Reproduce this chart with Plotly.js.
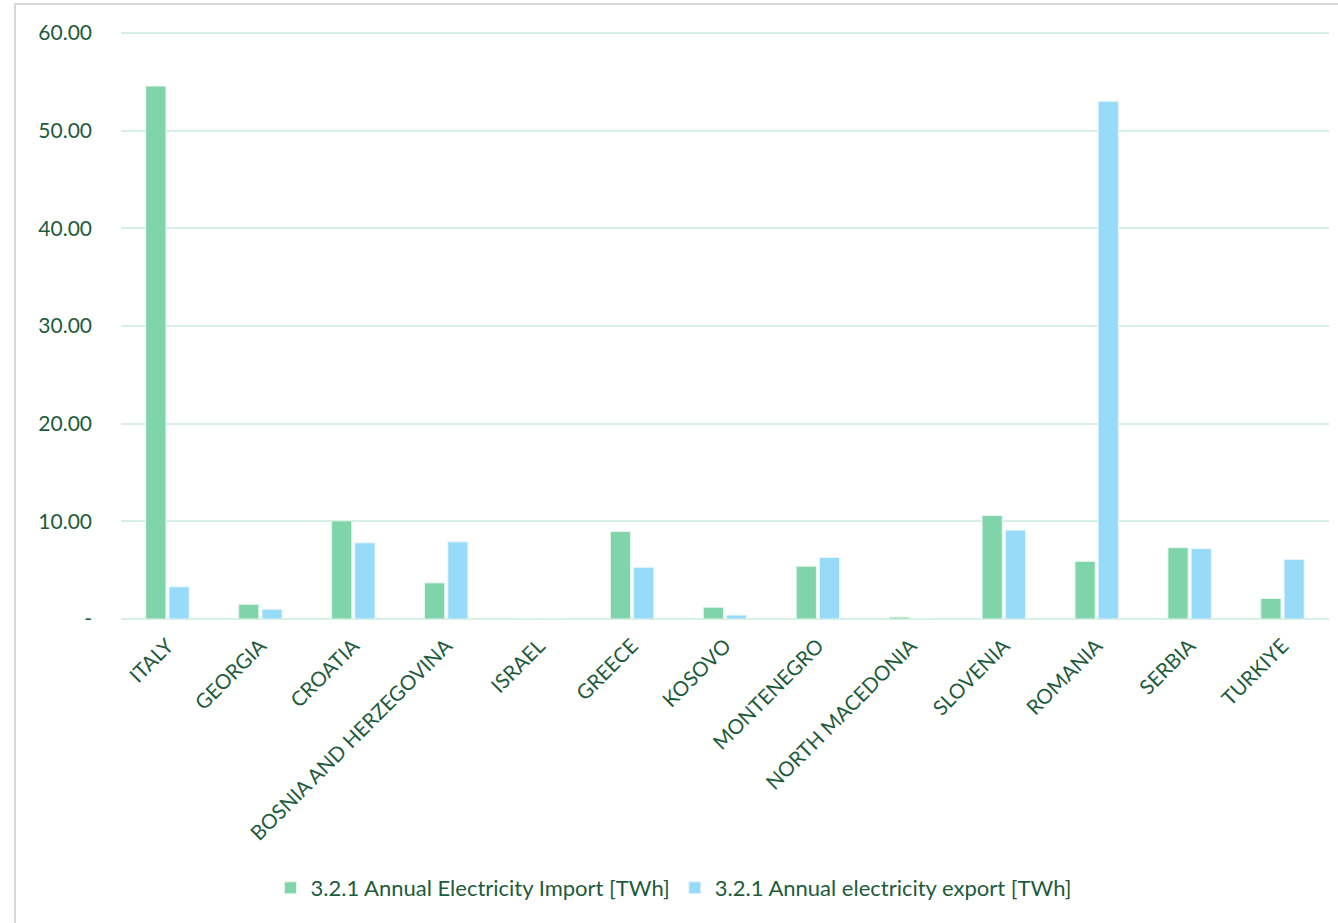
<!DOCTYPE html>
<html>
<head>
<meta charset="utf-8">
<script src="https://cdn.plot.ly/plotly-3.0.1.min.js"></script>
<style>
  html, body { margin: 0; padding: 0; background: #ffffff; }
  #chart { width: 1338px; height: 923px; }
</style>
</head>
<body>
<div id="chart"></div>
<script>
// Countries along the category axis
const countries = [
  "ITALY", "GEORGIA", "CROATIA", "BOSNIA AND HERZEGOVINA", "ISRAEL", "GREECE",
  "KOSOVO", "MONTENEGRO", "NORTH MACEDONIA", "SLOVENIA", "ROMANIA", "SERBIA", "TURKIYE"
];

// Annual electricity import, TWh
const importTWh = [54.55, 1.5, 10.05, 3.7, 0, 8.95, 1.2, 5.4, 0.2, 10.6, 5.9, 7.3, 2.1];

// Annual electricity export, TWh
const exportTWh = [3.3, 1.0, 7.8, 7.9, 0, 5.3, 0.4, 6.3, 0, 9.1, 53.0, 7.2, 6.1];

// Value axis ticks
const yTickVals = [0, 10, 20, 30, 40, 50, 60];
const yTickText = ["-", "10.00", "20.00", "30.00", "40.00", "50.00", "60.00"];

const seriesNames = [
  "3.2.1 Annual Electricity Import [TWh]",
  "3.2.1 Annual electricity export [TWh]"
];

const textColor = "#1d5b3b";
const gridColor = "#d6f1e4";
const fontFamily = "Lato, 'Open Sans', sans-serif";

const traces = [
  {
    type: "bar",
    name: seriesNames[0],
    x: countries,
    y: importTWh,
    marker: { color: "#7fd4a9", line: { color: "#e6f7ee", width: 1 } },
    hoverinfo: "x+y"
  },
  {
    type: "bar",
    name: seriesNames[1],
    x: countries,
    y: exportTWh,
    marker: { color: "#98dbf8", line: { color: "#e8f6fd", width: 1 } },
    hoverinfo: "x+y"
  }
];

const W = 1338, H = 923;
const yMax = 60.5;
const mL = 121, mR = 9, mT = 28, mB = 304;
const pw = W - mL - mR, ph = H - mT - mB;
const baseY = H - mB;               // pixel row of the value-axis zero

const layout = {
  width: W,
  height: H,
  margin: { l: mL, r: mR, t: mT, b: mB, pad: 0 },
  paper_bgcolor: "#ffffff",
  plot_bgcolor: "#ffffff",
  font: { family: fontFamily, color: textColor, size: 20 },
  barmode: "group",
  bargap: 0.5,
  bargroupgap: 0.13,
  showlegend: true,
  legend: {
    orientation: "h",
    x: (674 - mL) / pw,
    xanchor: "center",
    y: -(888 - baseY) / ph,
    yanchor: "middle",
    font: { size: 22, color: textColor },
    itemwidth: 30,
    tracegroupgap: 0,
    traceorder: "normal"
  },
  xaxis: {
    type: "category",
    tickangle: -45,
    tickfont: { size: 20.5, color: textColor },
    showgrid: false,
    showline: false,
    ticks: "",
    ticklabelstandoff: 10,
    fixedrange: true
  },
  yaxis: {
    range: [0, yMax],
    tickvals: yTickVals,
    ticktext: yTickText,
    tickfont: { size: 21, color: textColor },
    showgrid: true,
    gridcolor: gridColor,
    gridwidth: 2,
    zeroline: true,
    zerolinecolor: gridColor,
    zerolinewidth: 2,
    showline: false,
    ticks: "",
    ticklabelstandoff: 28,
    fixedrange: true
  },
  shapes: [
    {
      type: "rect",
      xref: "paper", yref: "paper",
      x0: (15 - mL) / pw, x1: (W + 5 - mL) / pw,
      y0: -(H + 5 - baseY) / ph, y1: (baseY - 4) / ph,
      line: { color: "#d9d9d9", width: 2 },
      fillcolor: "rgba(0,0,0,0)",
      layer: "below"
    }
  ]
};

Plotly.newPlot("chart", traces, layout, { displayModeBar: false, staticPlot: true });
</script>
</body>
</html>
